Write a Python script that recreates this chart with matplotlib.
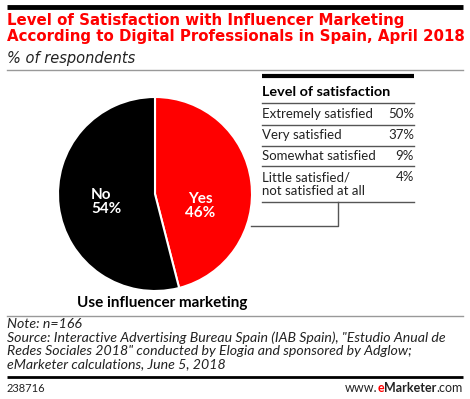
import matplotlib
matplotlib.use("Agg")
import matplotlib.pyplot as plt

# data
pie_labels = ["Yes", "No"]
pie_values = [46, 54]
pie_colors = ["#ff0000", "#000000"]

levels = ["Extremely satisfied", "Very satisfied", "Somewhat satisfied",
          "Little satisfied/\nnot satisfied at all"]
level_values = [50, 37, 9, 4]

title = "Level of Satisfaction with Influencer Marketing\nAccording to Digital Professionals in Spain, April 2018"
subtitle = "% of respondents"
note = ("Note: n=166\n"
        "Source: Interactive Advertising Bureau Spain (IAB Spain), \"Estudio Anual de\n"
        "Redes Sociales 2018\" conducted by Elogia and sponsored by Adglow;\n"
        "eMarketer calculations, June 5, 2018")

W, H = 470, 399
plt.rcParams['font.family'] = ['Lato', 'DejaVu Sans']
fig = plt.figure(figsize=(W / 100, H / 100), dpi=100)

# pie
cx, cy, r = 155, 194, 97
pax = fig.add_axes([(cx - r) / W, 1 - (cy + r) / H, 2 * r / W, 2 * r / H])
wedges, _ = pax.pie(pie_values, colors=pie_colors, startangle=90, counterclock=False,
                    wedgeprops=dict(edgecolor='white', linewidth=1.5))
pax.set_xlim(-1, 1)
pax.set_ylim(-1, 1)
pax.set_aspect('equal')

# overlay axes in pixel coords
bg = fig.add_axes([0, 0, 1, 1])
bg.set_xlim(0, W)
bg.set_ylim(H, 0)
bg.axis('off')
bg.patch.set_alpha(0)

# header
bg.plot([7, 463], [7, 7], color='black', lw=3.5, solid_capstyle='butt')
bg.text(7, 13, title, color='#ff0000', fontsize=10.8, fontweight='bold',
        family='DejaVu Sans', va='top', linespacing=1.05)
bg.text(7, 63, subtitle, fontsize=10.5, style='italic', family='DejaVu Sans',
        va='baseline', color='#222222')
bg.plot([7, 463], [70, 70], color='#999999', lw=1)

bg.text(200, 206, "Yes\n46%", color='white', fontsize=11, fontweight='bold',
        ha='center', va='center', linespacing=1.05)
bg.text(91, 202, "No\n54%", color='white', fontsize=11, fontweight='bold',
        ha='left', va='center', linespacing=1.05)
bg.text(162, 307, "Use influencer marketing", fontsize=11, fontweight='bold',
        ha='center', va='baseline')

# satisfaction table
x0, x1 = 262, 414
bg.plot([x0, x1], [76, 76], color='black', lw=3, solid_capstyle='butt')
bg.text(x0, 96, "Level of satisfaction", fontsize=10.4, fontweight='bold', va='baseline')
bg.plot([x0, x1], [103, 103], color='#555555', lw=1)
row_top = [108, 129, 150, 171]
row_lines = [125, 146, 166, 202]
for lab, v, yt, yl in zip(levels, level_values, row_top, row_lines):
    bg.text(x0, yt, lab, fontsize=9.5, va='top', color='#222222', linespacing=1.2)
    bg.text(x1, yt, f"{v}%", fontsize=9.5, va='top', ha='right', color='#222222')
    bg.plot([x0, x1], [yl, yl], color='#555555', lw=1)

# connector
bg.plot([251, 338, 338], [226, 226, 202], color='#555555', lw=1)

# footer
bg.plot([7, 463], [316, 316], color='#999999', lw=1)
bg.text(7, 318, note, fontsize=10.2, style='italic', va='top', color='#222222',
        linespacing=1.12)
bg.plot([7, 463], [377, 377], color='black', lw=2, solid_capstyle='butt')
bg.text(7, 392, "238716", fontsize=8, va='baseline', color='#222222')
t4 = bg.text(463, 392, ".com", fontsize=9, va='baseline', ha='right', color='#222222')
t3 = bg.annotate("Marketer", xycoords=t4, xy=(0, 0), ha='right', va='bottom',
                 fontsize=9, fontweight='bold', color='#222222')
t2 = bg.annotate("e", xycoords=t3, xy=(0, 0), ha='right', va='bottom',
                 fontsize=9, fontweight='bold', color='#ff0000')
bg.annotate("www.", xycoords=t2, xy=(0, 0), ha='right', va='bottom',
            fontsize=9, color='#222222')

fig.savefig("out.png", dpi=100)
